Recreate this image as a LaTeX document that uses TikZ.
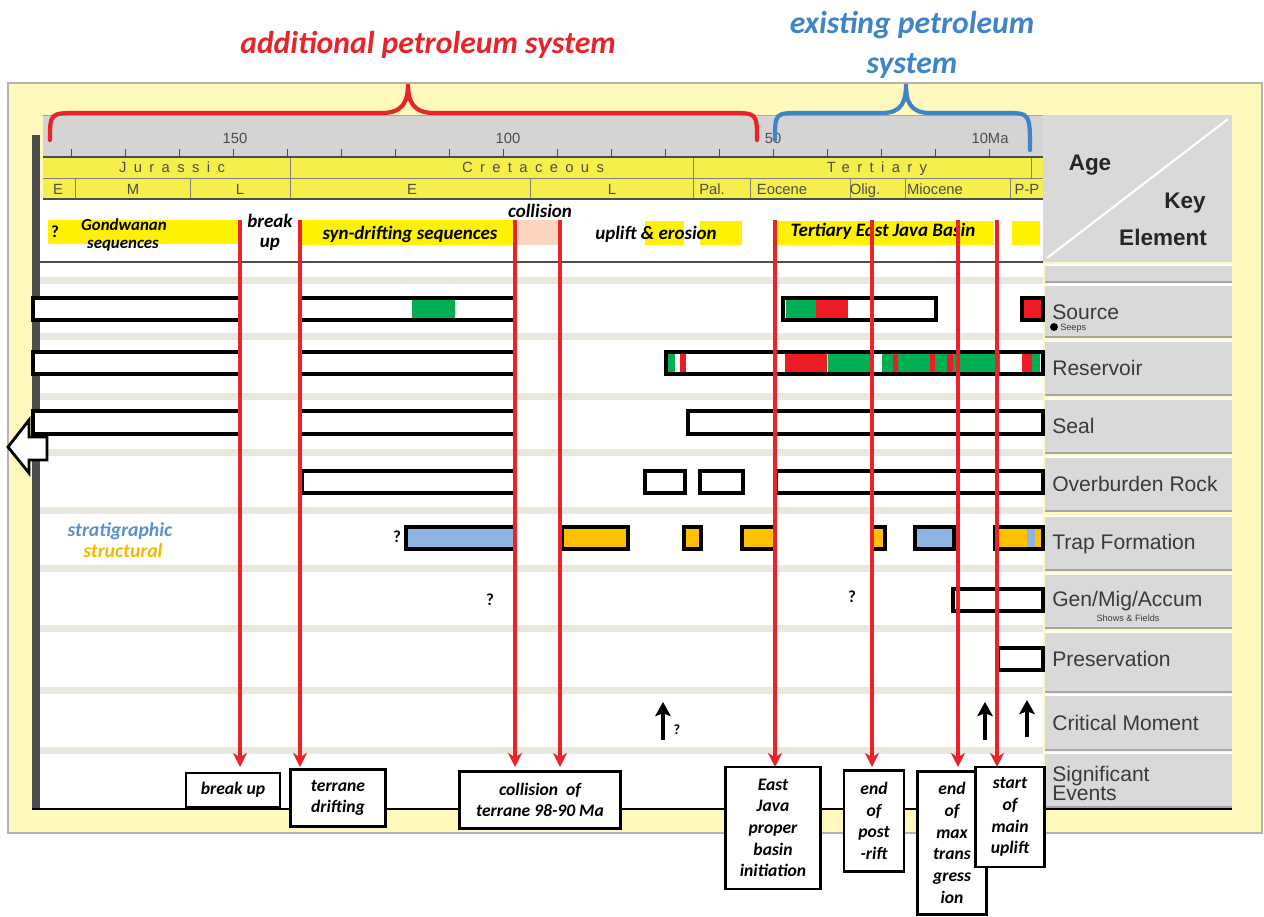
\documentclass[tikz,border=0pt]{standalone}
\usepackage{fontspec}
\setmainfont{Carlito}[BoldFont={Carlito Bold}, ItalicFont={Carlito Italic}, BoldItalicFont={Carlito Bold Italic}]
\newfontfamily\arialfont{Liberation Sans}
\newfontfamily\agefont[LetterSpace=50]{Liberation Sans}
\usetikzlibrary{arrows.meta, positioning, calc}

\definecolor{frameyel}{HTML}{FFF9BE}
\definecolor{bandyel}{HTML}{FFF200}
\definecolor{ageyel}{HTML}{F4EF4A}
\definecolor{salmon}{HTML}{FBD5C0}
\definecolor{stripe}{HTML}{E8E8DF}
\definecolor{keygray}{HTML}{D9D9D9}
\definecolor{scalegray}{HTML}{D4D4D4}
\definecolor{darkedge}{HTML}{4D4D4D}
\definecolor{evred}{HTML}{E8232A}
\definecolor{sysblue}{HTML}{3E84C6}
\definecolor{resgreen}{HTML}{00B050}
\definecolor{resred}{HTML}{EE1C25}
\definecolor{trapblue}{HTML}{8DB4E2}
\definecolor{traporange}{HTML}{FFC000}
\definecolor{keytext}{HTML}{3A3A3A}
\definecolor{stratblue}{HTML}{5B8FD0}
\definecolor{structorange}{HTML}{F5B800}

\def\pxu{0.025cm}

\begin{document}
\begin{tikzpicture}[x=0.025cm, y=-0.025cm,
    bar/.style={draw=black, line width=2.2pt, fill=white},
    evline/.style={draw=evred, line width=2.4pt, -{Stealth[length=10pt, width=10pt, inset=3pt]}},
    cmarrow/.style={draw=black, line width=2.6pt, -{Stealth[length=10pt, width=11pt, inset=2pt]}},
    systitle/.style={font=\fontsize{22.5}{28.5}\selectfont\bfseries\itshape, inner sep=0pt},
    evlabel/.style={font=\fontsize{13.5}{16}\selectfont\bfseries\itshape, inner sep=0pt},
    evbox/.style={draw=black, line width=1.8pt, fill=white, align=center, inner sep=0pt,
        font=\fontsize{12.5}{15.4}\selectfont\bfseries\itshape},
    keylabel/.style={font=\arialfont\fontsize{15}{17}\selectfont, text=keytext, anchor=west, align=left, inner sep=0pt},
    keysmall/.style={font=\arialfont\fontsize{6.5}{7}\selectfont, text=keytext, inner sep=0pt},
    agenum/.style={font=\arialfont\fontsize{10.5}{12}\selectfont, text=darkedge, inner sep=0pt},
    agename/.style={font=\agefont\fontsize{10.5}{12}\selectfont, text=darkedge, inner sep=0pt},
    qmark/.style={font=\fontsize{12}{13}\selectfont\bfseries, inner sep=0pt}
]
\useasboundingbox (0,0) rectangle (1264,916);

% titles
\node[systitle, text=evred] (addsys) at (428,45) {additional petroleum system};
\node[systitle, text=sysblue, align=center] (exsys) at (912,45) {existing petroleum\\system};

% frame and panel
\fill[frameyel] (8,83) rectangle (1262,833);
\draw[gray!60, line width=0.8pt] (8,83) rectangle (1262,833);
\fill[white] (40,199) rectangle (1043,809);
\fill[darkedge] (32,135) rectangle (40,809);

% age scale
\fill[scalegray] (43,115) rectangle (1043,157);
\draw[gray!70, line width=0.6pt] (43,115) -- (1043,115);
\foreach \m in {10,20,...,180}
    \draw[darkedge, line width=0.7pt] ({1043-5.4*\m},149) -- ({1043-5.4*\m},156);
\node[agenum] (ma150) at (235,138) {150};
\node[agenum] (ma100) at (508,138) {100};
\node[agenum] (ma50) at (773,138) {50};
\node[agenum] (ma10) at (990,138) {10Ma};

% periods and epochs
\fill[ageyel] (43,158) rectangle (1043,199);
\draw[darkedge, line width=2pt] (43,157) -- (1043,157);
\draw[gray, line width=0.6pt] (43,178) -- (1043,178);
\foreach \x in {290,693,1031}
    \draw[gray, line width=0.6pt] (\x,158) -- (\x,178);
\foreach \x in {75,190,290,530,693,750,850,905,1010}
    \draw[gray, line width=0.6pt] (\x,178) -- (\x,199);
\draw[darkedge, line width=2pt] (43,199) -- (1043,199);
\node[agename, anchor=base] (jur) at (172,172) {Jurassic};
\node[agename, anchor=base] (cret) at (533,172) {Cretaceous};
\node[agename, anchor=base] (tert) at (877,172) {Tertiary};
\foreach \x/\e [count=\i] in {58/E, 133/M, 240/L, 412/E, 612/L, 712/Pal., 782/Eocene, 865/Olig., 935/Miocene, 1027/P-P}
    \node[agenum, anchor=base] (ep\i) at (\x,194) {\e};

% events row
\fill[bandyel] (48,220) rectangle (240,244);
\fill[bandyel] (300,220) rectangle (515,245);
\fill[salmon] (515,220) rectangle (560,245);
\fill[bandyel] (645,221) rectangle (684,245);
\fill[bandyel] (700,221) rectangle (742,245);
\fill[bandyel] (776,221) rectangle (994,245);
\fill[bandyel] (1012,221) rectangle (1040,245);
\draw[gray!60!black, line width=1.2pt] (40,262) -- (1043,262);
\node[qmark] (q0) at (55,232) {?};
\node[evlabel, font=\fontsize{12}{14}\selectfont\bfseries\itshape] (gond1) at (124,225) {Gondwanan};
\node[evlabel, font=\fontsize{12}{14}\selectfont\bfseries\itshape] (gond2) at (123,246) {sequences};
\node[evlabel] (brk1) at (270,221) {break};
\node[evlabel] (brk2) at (270,244) {up};
\node[evlabel] (coll) at (540,211) {collision};
\node[evlabel] (syn) at (410,234) {syn-drifting sequences};
\node[evlabel] (upl) at (656,234) {uplift \& erosion};
\node[evlabel] (tejb) at (883,231) {Tertiary East Java Basin};

% row stripes
\foreach \s in {280,336,396,452,510,568,628,690,750}
    \fill[stripe] (40,\s-3.5) rectangle (1043,\s+3.5);

% key element column
\fill[keygray] (1043,115) rectangle (1232,262);
\draw[white, line width=1.5pt] (1047,258) -- (1228,119);
\node[font=\arialfont\bfseries\fontsize{16}{18}\selectfont, text=black!85] (age) at (1090,165) {Age};
\node[font=\arialfont\bfseries\fontsize{16}{18}\selectfont, text=black!85] (key) at (1185,203) {Key};
\node[font=\arialfont\bfseries\fontsize{16}{18}\selectfont, text=black!85] (elem) at (1163,237) {Element};
\foreach \t/\b in {265/282, 285/337, 341/395, 399/453, 457/511, 516/570, 574/628, 632/692, 695/750, 753/807} {
    \fill[keygray] (1045,\t) rectangle (1232,\b);
    \draw[white, line width=1pt] (1045,\t) -- (1232,\t);
    \draw[gray!70, line width=0.8pt] (1045,\b) -- (1232,\b);
}
\node[keylabel] (ksrc) at (1052,312) {Source};
\fill[black] (1054,327) circle[radius=2.8pt];
\node[keysmall, anchor=west] (kseep) at (1060,328) {Seeps};
\node[keylabel] (kres) at (1052,368) {Reservoir};
\node[keylabel] (kseal) at (1052,426) {Seal};
\node[keylabel] (kover) at (1052,484) {Overburden Rock};
\node[keylabel] (ktrap) at (1052,544) {Trap Formation};
\node[keylabel] (kgen) at (1052,601) {Gen/Mig/Accum};
\node[keysmall] (kshow) at (1128,618) {Shows \& Fields};
\node[keylabel] (kpres) at (1052,659) {Preservation};
\node[keylabel] (kcrit) at (1052,723) {Critical Moment};
\node[keylabel, font=\arialfont\fontsize{15}{13.5}\selectfont] (ksig) at (1052,783) {Significant\\Events};

% source
\draw[bar] (33,298) rectangle (240,320);
\draw[bar] (300,298) rectangle (515,320);
\fill[resgreen] (412,300) rectangle (455,318);
\draw[bar] (783,298) rectangle (936,320);
\fill[resgreen] (786,298) rectangle (816,320);
\fill[resred] (816,298) rectangle (848,320);
\draw[bar, fill=none] (783,298) rectangle (936,320);
\draw[bar, fill=resred] (1022,298) rectangle (1043,320);

% reservoir
\draw[bar] (33,352) rectangle (240,374);
\draw[bar] (300,352) rectangle (515,374);
\draw[bar] (666,352) rectangle (1043,374);
\foreach \a/\b/\c in {668/675/resgreen, 680/686/resred, 785/827/resred, 828/870/resgreen,
    882/893/resgreen, 893/898/resred, 898/930/resgreen, 930/935/resred, 935/947/resgreen,
    947/953/resred, 953/1000/resgreen, 1022/1032/resred, 1032/1040/resgreen}
    \fill[\c] (\a,352) rectangle (\b,374);
\draw[bar, fill=none] (666,352) rectangle (1043,374);

% seal
\draw[bar] (33,411) rectangle (240,434);
\draw[bar] (300,411) rectangle (515,434);
\draw[bar] (688,411) rectangle (1043,434);

% overburden
\draw[bar] (302,471) rectangle (515,493);
\draw[bar] (645,471) rectangle (685,493);
\draw[bar] (700,471) rectangle (743,493);
\draw[bar] (776,471) rectangle (1043,493);

% trap formation
\node[qmark] (qtrap) at (397,537) {?};
\draw[bar, fill=trapblue] (406,527) rectangle (515,549);
\draw[bar, fill=traporange] (562,527) rectangle (628,549);
\draw[bar, fill=traporange] (684,527) rectangle (701,549);
\draw[bar, fill=traporange] (742,527) rectangle (775,549);
\draw[bar, fill=traporange] (872,527) rectangle (885,549);
\draw[bar, fill=trapblue] (915,527) rectangle (954,549);
\draw[bar, fill=traporange] (995,527) rectangle (1043,549);
\fill[trapblue] (1027,529) rectangle (1035,547);
\node[evlabel, text=stratblue, font=\fontsize{14}{16}\selectfont\bfseries\itshape] (strat) at (120,531) {stratigraphic};
\node[evlabel, text=structorange, font=\fontsize{14}{16}\selectfont\bfseries\itshape] (struct) at (123,551) {structural};

% gen/mig/accum and preservation
\node[qmark] (qgen1) at (490,600) {?};
\node[qmark] (qgen2) at (852,597) {?};
\draw[bar] (953,589) rectangle (1043,611);
\draw[bar] (998,648) rectangle (1043,670);

% left arrow
\draw[black, line width=2pt, fill=white, line join=miter]
    (8,447) -- (29,420) -- (29,437) -- (47,437) -- (47,460) -- (29,460) -- (29,473) -- cycle;

% critical moment
\foreach \x/\t/\b [count=\i] in {663/702/740, 985/702/740, 1027/700/737} {
    \coordinate (cmb\i) at (\x,\b);
    \coordinate (cmt\i) at (\x,\t);
    \draw[cmarrow] (cmb\i) -- (cmt\i);
}
\node[qmark, font=\fontsize{10}{11}\selectfont\bfseries] (qcrit) at (677,730) {?};

% event lines
\foreach \x [count=\i] in {240,300,515,560,775,872,958,997} {
    \coordinate (top\i) at (\x,220);
    \coordinate (tip\i) at (\x,767);
    \draw[evline] (top\i) -- (tip\i);
}

% panel bottom
\draw[black, line width=2pt] (32,809) -- (1232,809);

% significant events
\node[evbox, minimum width=94*\pxu, minimum height=34*\pxu] (bxbrk) at (233,790) {break up};
\node[evbox, minimum width=95*\pxu, minimum height=57*\pxu] (bxdrift) at (338,798) {terrane\\drifting};
\node[evbox, minimum width=161*\pxu, minimum height=57*\pxu] (bxcoll) at (540,800) {collision\ \ of\\terrane 98-90 Ma};
\node[evbox, minimum width=95*\pxu, minimum height=122*\pxu] (bxejb) at (773,828) {East\\Java\\proper\\basin\\initiation};
\node[evbox, minimum width=60*\pxu, minimum height=101*\pxu] (bxrift) at (874,821) {end\\of\\post\\-rift};
\node[evbox, minimum width=69*\pxu, minimum height=143*\pxu] (bxmax) at (952,843) {end\\of\\max\\trans\\gress\\ion};
\node[evbox, minimum width=69*\pxu, minimum height=100*\pxu] (bxupl) at (1010,817) {start\\of\\main\\uplift};

% braces
\draw[evred, line width=3pt, line cap=round]
    (50,140) .. controls (50,113) .. (78,113) -- (382,113)
    .. controls (404,113) and (408,100) .. (408,84)
    .. controls (408,100) and (412,113) .. (434,113) -- (730,113)
    .. controls (757,113) .. (757,140);
\draw[sysblue, line width=3pt, line cap=round]
    (775,140) .. controls (775,113) .. (800,113) -- (882,113)
    .. controls (903,113) and (906,100) .. (906,84)
    .. controls (906,100) and (909,113) .. (930,113) -- (1005,113)
    .. controls (1030,113) .. (1030,150);
\end{tikzpicture}
\end{document}
